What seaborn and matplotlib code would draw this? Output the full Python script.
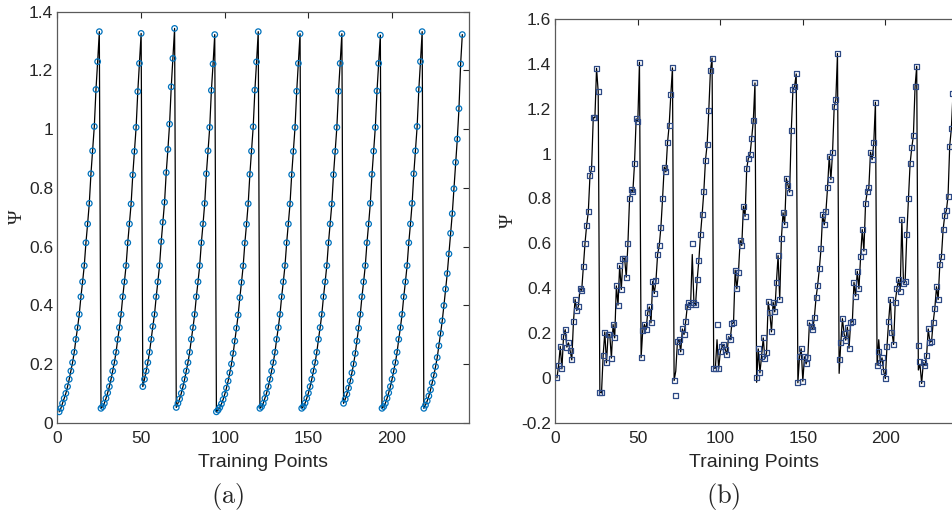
import numpy as np
import pandas as pd
import seaborn as sns
import matplotlib
matplotlib.use("Agg")
import matplotlib.pyplot as plt
from matplotlib.ticker import FuncFormatter

# ---------------- data: panel (a) ----------------
a_c1 = [0.037, 0.049, 0.066, 0.083, 0.100, 0.123, 0.148, 0.176, 0.205, 0.240, 0.284, 0.324, 0.369,
        0.429, 0.480, 0.535, 0.613, 0.677, 0.747, 0.848, 0.926, 1.009, 1.135, 1.230, 1.332]
a_c2 = [0.049, 0.055, 0.066, 0.083, 0.102, 0.123, 0.148, 0.176, 0.205, 0.240, 0.284, 0.324, 0.369,
        0.429, 0.480, 0.535, 0.613, 0.677, 0.745, 0.844, 0.924, 1.006, 1.128, 1.224, 1.326]
a_c3 = [0.123, 0.148, 0.176, 0.205, 0.240, 0.284, 0.328, 0.369, 0.429, 0.480, 0.535, 0.617, 0.683,
        0.751, 0.852, 0.931, 1.017, 1.144, 1.241, 1.343]
a_c4 = [0.052, 0.066, 0.081, 0.100, 0.123, 0.148, 0.176, 0.205, 0.240, 0.284, 0.324, 0.369, 0.429,
        0.480, 0.535, 0.613, 0.677, 0.747, 0.848, 0.926, 1.006, 1.132, 1.222, 1.322]
a_c5 = [0.037, 0.043, 0.052, 0.064, 0.079, 0.097, 0.118, 0.142, 0.170, 0.200, 0.236, 0.278, 0.322,
        0.367, 0.426, 0.478, 0.534, 0.612, 0.676, 0.746, 0.846, 0.925, 1.008, 1.133, 1.229, 1.332]
a_c6 = [0.049, 0.055, 0.066, 0.083, 0.101, 0.123, 0.148, 0.176, 0.205, 0.240, 0.284, 0.324, 0.369,
        0.429, 0.480, 0.535, 0.613, 0.677, 0.745, 0.845, 0.924, 1.006, 1.129, 1.224, 1.325]
a_c7 = [0.049, 0.055, 0.067, 0.083, 0.101, 0.123, 0.148, 0.176, 0.205, 0.240, 0.284, 0.324, 0.369,
        0.429, 0.480, 0.535, 0.613, 0.677, 0.745, 0.845, 0.924, 1.006, 1.129, 1.224, 1.325]
a_c8 = [0.066, 0.080, 0.097, 0.118, 0.142, 0.170, 0.200, 0.236, 0.278, 0.322, 0.369, 0.429, 0.480,
        0.535, 0.613, 0.677, 0.747, 0.846, 0.925, 1.006, 1.130, 1.224, 1.320]
a_c9 = [0.049, 0.055, 0.066, 0.083, 0.102, 0.123, 0.148, 0.176, 0.205, 0.240, 0.284, 0.324, 0.369,
        0.429, 0.480, 0.535, 0.613, 0.677, 0.747, 0.848, 0.926, 1.009, 1.135, 1.230, 1.332]
a_c10 = [0.049, 0.060, 0.074, 0.091, 0.112, 0.136, 0.162, 0.191, 0.222, 0.262, 0.304, 0.347, 0.399,
         0.455, 0.508, 0.575, 0.645, 0.712, 0.797, 0.887, 0.966, 1.070, 1.222, 1.322]
psi_a = a_c1 + a_c2 + a_c3 + a_c4 + a_c5 + a_c6 + a_c7 + a_c8 + a_c9 + a_c10

# ---------------- data: panel (b) ----------------
b_c1 = [0.0, 0.055, 0.14, 0.04, 0.186, 0.215, 0.137, 0.156, 0.12, 0.08, 0.25, 0.35, 0.30, 0.32,
        0.40, 0.39, 0.495, 0.60, 0.68, 0.74, 0.90, 0.935, 1.16, 1.16, 1.38, 1.275]
b_c2 = [-0.064, -0.067, 0.10, 0.204, 0.067, 0.193, 0.193, 0.088, 0.238, 0.178, 0.41, 0.324, 0.50,
        0.394, 0.533, 0.533, 0.449, 0.597, 0.80, 0.84, 0.83, 0.955, 1.155, 1.143, 1.407]
b_c3 = [0.09, 0.212, 0.238, 0.215, 0.29, 0.316, 0.245, 0.43, 0.376, 0.434, 0.551, 0.591, 0.672,
        0.80, 0.94, 0.918, 1.048, 1.126, 1.263, 1.382]
b_c4 = [-0.012, -0.079, 0.16, 0.17, 0.116, 0.218, 0.193, 0.25, 0.32, 0.334, 0.327, 0.60, 0.334,
        0.327, 0.44, 0.525, 0.64, 0.73, 0.83, 0.97, 1.04, 1.19, 1.37, 1.426]
b_c5 = [0.043, 0.043, 0.238, 0.04, 0.116, 0.138, 0.149, 0.126, 0.104, 0.183, 0.17, 0.242, 0.245,
        0.48, 0.397, 0.471, 0.612, 0.59, 0.765, 0.72, 0.933, 0.98, 0.995, 1.067, 1.149, 1.315]
b_c6 = [0.003, 0.129, 0.022, 0.097, 0.178, 0.086, 0.111, 0.339, 0.29, 0.205, 0.337, 0.294, 0.426,
        0.545, 0.349, 0.62, 0.736, 0.683, 0.89, 0.859, 0.828, 1.104, 1.285, 1.30, 1.355]
b_c7 = [-0.022, 0.094, 0.13, -0.015, 0.094, 0.062, 0.089, 0.245, 0.23, 0.215, 0.27, 0.357, 0.413,
        0.486, 0.575, 0.728, 0.682, 0.743, 0.85, 0.988, 0.884, 1.003, 1.208, 1.241, 1.446]
b_c8 = [0.082, 0.156, 0.264, 0.196, 0.168, 0.226, 0.132, 0.248, 0.25, 0.426, 0.364, 0.475, 0.397,
        0.539, 0.661, 0.565, 0.777, 0.829, 0.847, 1.006, 0.973, 1.048, 1.229]
b_c9 = [0.056, 0.116, 0.067, 0.089, 0.03, -0.003, 0.141, 0.253, 0.349, 0.204, 0.149, 0.337, 0.397,
        0.438, 0.386, 0.706, 0.42, 0.43, 0.639, 0.798, 0.955, 1.025, 1.08, 1.297, 1.389]
b_c10 = [0.146, 0.074, -0.025, 0.067, 0.056, 0.10, 0.218, 0.159, 0.163, 0.248, 0.311, 0.406, 0.349,
         0.505, 0.542, 0.661, 0.724, 0.747, 0.81, 1.033, 1.111, 1.267]
psi_b = b_c1 + b_c2 + b_c3 + b_c4 + b_c5 + b_c6 + b_c7 + b_c8 + b_c9 + b_c10
# fitted line in (b): equals the squares except where it visibly departs
line_b_changes = {72: 0.03, 82: 0.55, 97: 0.17, 121: -0.02, 171: 0.02, 195: 0.17, 219: 0.035, 220: 0.06}

xlabel = "Training Points"
ylabel = "\u03a8"
captions = ["(a)", "(b)"]
yticks_a = [0, 0.2, 0.4, 0.6, 0.8, 1.0, 1.2, 1.4]
yticks_b = [-0.2, 0, 0.2, 0.4, 0.6, 0.8, 1.0, 1.2, 1.4, 1.6]
xticks = [0, 50, 100, 150, 200]

# ---------------- build frames ----------------
df_a = pd.DataFrame({"x": np.arange(1, len(psi_a) + 1), "psi": psi_a})
line_b = list(psi_b)
for k, v in line_b_changes.items():
    line_b[k] = v
df_b = pd.DataFrame({"x": np.arange(1, len(psi_b) + 1), "psi": psi_b, "fit": line_b})

sns.set_theme(style="white")
plt.rcParams["font.family"] = ["Liberation Sans", "DejaVu Sans"]
plt.rcParams["mathtext.fontset"] = "cm"

W, H = 953, 517
fig = plt.figure(figsize=(W / 100, H / 100), dpi=100)

ax_a = fig.add_axes([57.5 / W, 1 - 422.7 / H, (469 - 57.5) / W, (422.7 - 11.7) / H])
ax_b = fig.add_axes([555.3 / W, 1 - 422.7 / H, (953 - 555.3) / W, (422.7 - 19) / H])

blue = "#0072BD"
navy = "#2E4A86"

sns.lineplot(data=df_a, x="x", y="psi", ax=ax_a, color="black", lw=0.9, sort=False, zorder=2)
sns.scatterplot(data=df_a, x="x", y="psi", ax=ax_a, marker="o", s=16, facecolor="none",
                edgecolor=blue, linewidth=0.9, zorder=3)

sns.lineplot(data=df_b, x="x", y="fit", ax=ax_b, color="black", lw=0.9, sort=False, zorder=2)
sns.scatterplot(data=df_b, x="x", y="psi", ax=ax_b, marker="s", s=13, facecolor="none",
                edgecolor=navy, linewidth=0.9, zorder=3)

fmt = FuncFormatter(lambda v, p: ("%g" % round(v, 2)))

for ax, yt, ylim, xlim, lp in [(ax_a, yticks_a, (0, 1.4), (0, 246), 2),
                               (ax_b, yticks_b, (-0.2, 1.6), (0, 241), 3)]:
    ax.set_xlim(*xlim)
    ax.set_ylim(*ylim)
    ax.set_xticks(xticks)
    ax.set_yticks(yt)
    ax.yaxis.set_major_formatter(fmt)
    ax.tick_params(direction="in", length=4, width=0.8, colors="#262626", labelsize=12.5,
                   top=True, right=True, labelcolor="#262626")
    ax.tick_params(axis="x", pad=6)
    ax.tick_params(axis="y", pad=3)
    for s in ax.spines.values():
        s.set_color("#5a5a5a")
        s.set_linewidth(0.9)
    ax.set_xlabel(xlabel, fontsize=14, color="#262626", labelpad=6)
    ax.set_ylabel(ylabel, fontsize=14, family=["Liberation Serif", "DejaVu Serif"],
                  color="#262626", labelpad=lp)
    ax.grid(False)
ax_b.spines["right"].set_visible(False)
ax_b.tick_params(right=False)

fig.text(228 / W, 1 - 497 / H, r"$\mathrm{(a)}$", fontsize=19, ha="center", va="center")
fig.text(723 / W, 1 - 497 / H, r"$\mathrm{(b)}$", fontsize=19, ha="center", va="center")

fig.savefig("out.png", dpi=100)
